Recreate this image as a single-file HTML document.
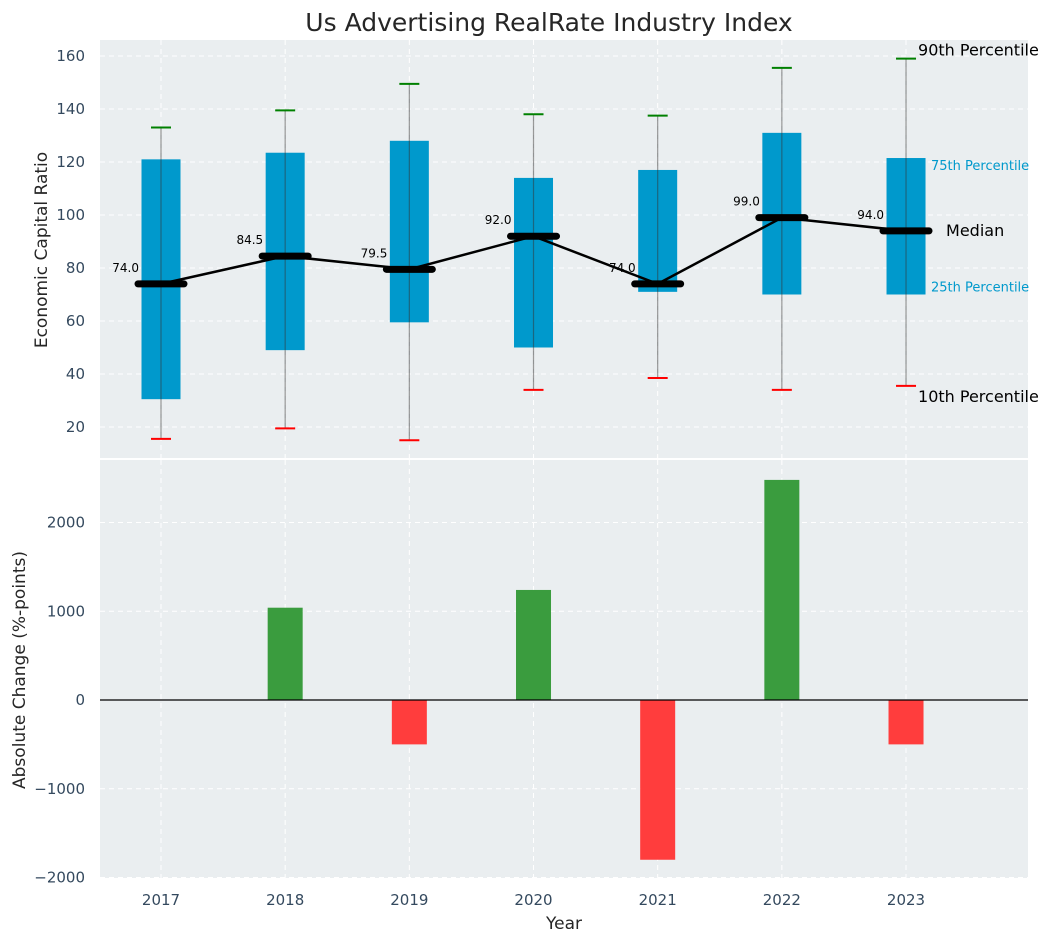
<!DOCTYPE html>
<html><head><meta charset="utf-8">
<style>
html,body{margin:0;padding:0;background:#fff;}
svg{display:block;font-family:"DejaVu Sans","Liberation Sans",sans-serif;}
</style></head>
<body>
<svg id="chart" width="1053" height="942" viewBox="0 0 1053 942" xmlns="http://www.w3.org/2000/svg">
<text x="549" y="31" text-anchor="middle" font-size="25" fill="#262626">Us Advertising RealRate Industry Index</text>
<rect x="100" y="40" width="928" height="418" fill="#eaeef0"/>
<rect x="100" y="460" width="928" height="418" fill="#eaeef0"/>
<g id="topg"></g>
<g id="botg"></g>
<text x="47" y="250" text-anchor="middle" font-size="17" fill="#262626" transform="rotate(-90 47 250)">Economic Capital Ratio</text>
<text x="25" y="670" text-anchor="middle" font-size="17" fill="#262626" transform="rotate(-90 25 670)">Absolute Change (%-points)</text>
<text x="564" y="929" text-anchor="middle" font-size="17" fill="#262626">Year</text>
</svg>
<script>
const years = ['2017','2018','2019','2020','2021','2022','2023'];
const p10 = [15.5, 19.5, 15, 34, 38.5, 34, 35.5];
const p25 = [30.5, 49, 59.5, 50, 71, 70, 70];
const medians = [74.0, 84.5, 79.5, 92.0, 74.0, 99.0, 94.0];
const p75 = [121, 123.5, 128, 114, 117, 131, 121.5];
const p90 = [133, 139.5, 149.5, 138, 137.5, 155.5, 159];
const changes = [0, 1040, -500, 1240, -1800, 2480, -500];
const topTicks = [20, 40, 60, 80, 100, 120, 140, 160];
const bottomTicks = [-2000, -1000, 0, 1000, 2000];

{
const NS = 'http://www.w3.org/2000/svg';
function mk(parent, tag, attrs, text) {
  const e = document.createElementNS(NS, tag);
  for (const k in attrs) e.setAttribute(k, attrs[k]);
  if (text !== undefined) e.textContent = text;
  parent.appendChild(e);
  return e;
}
const xPos = i => 161 + i * 124.17;
const yTop = v => 427 - (v - 20) * 2.65;
const yBot = v => 700 - v * 0.08875;
const topG = document.getElementById('topg');
const botG = document.getElementById('botg');
const tickCol = '#34495e';

topTicks.forEach(t => {
  const y = yTop(t);
  const g = mk(topG, 'line', {x1:100, x2:1028, y1:y, y2:y, stroke:'#fff', 'stroke-dasharray':'5,4', 'stroke-width':1});
  
  
  const l = mk(topG, 'text', {x:85, y:y+5, 'text-anchor':'end', 'font-size':15, fill:tickCol}, t);
  
  
});
bottomTicks.forEach(t => {
  const y = yBot(t);
  const g = mk(botG, 'line', {x1:100, x2:1028, y1:y, y2:y, stroke:'#fff', 'stroke-dasharray':'5,4', 'stroke-width':1});
  
  
  const l = mk(botG, 'text', {x:85, y:y+5, 'text-anchor':'end', 'font-size':15, fill:tickCol}, t < 0 ? '\u2212' + Math.abs(t) : t);
  
  
});
years.forEach((yr, i) => {
  const x = xPos(i);
  [[40,458,topG],[460,878,botG]].forEach(([a,b,p]) => {
    const g = mk(p, 'line', {x1:x, x2:x, y1:a, y2:b, stroke:'#fff', 'stroke-dasharray':'5,4', 'stroke-width':1});
    
    
  });
  const l = mk(botG, 'text', {x:x, y:905, 'text-anchor':'middle', 'font-size':15, fill:tickCol}, yr);
  
  
});

years.forEach((yr, i) => {
  const x = xPos(i);
  const b = mk(topG, 'rect', {x:x-19.5, y:yTop(p75[i]), width:39, height:yTop(p25[i])-yTop(p75[i]), fill:'#0099cc'});
  
  
  const w = mk(topG, 'line', {x1:x, x2:x, y1:yTop(p90[i]), y2:yTop(p10[i]), stroke:'#333', 'stroke-opacity':0.5, 'stroke-width':1.2});
  
  
  const c1 = mk(topG, 'line', {x1:x-10, x2:x+10, y1:yTop(p90[i]), y2:yTop(p90[i]), stroke:'#008000', 'stroke-width':2});
  
  
  const c2 = mk(topG, 'line', {x1:x-10, x2:x+10, y1:yTop(p10[i]), y2:yTop(p10[i]), stroke:'#ff0000', 'stroke-width':2});
  
  
});
const pts = medians.map((m, i) => xPos(i) + ',' + yTop(m)).join(' ');
const ml = mk(topG, 'polyline', {points:pts, fill:'none', stroke:'#000', 'stroke-width':2.5});


years.forEach((yr, i) => {
  const x = xPos(i), y = yTop(medians[i]);
  const m = mk(topG, 'line', {x1:x-23, x2:x+23, y1:y, y2:y, stroke:'#000', 'stroke-width':7, 'stroke-linecap':'round'});
  
  
  const t = mk(topG, 'text', {x:x-22, y:y-12, 'text-anchor':'end', 'font-size':12, fill:'#000'}, medians[i].toFixed(1));
  
  
});
const lx = xPos(6);
const ann = [
  ['90th Percentile', p90[6], 16, '#000', 'p90-annotation', 6],
  ['75th Percentile', p75[6], 13, '#0099cc', 'p75-annotation', 12],
  ['Median', medians[6], 16, '#000', 'median-annotation', 5],
  ['25th Percentile', p25[6], 13, '#0099cc', 'p25-annotation', -3],
  ['10th Percentile', p10[6], 16, '#000', 'p10-annotation', 6]
];
ann.forEach(([txt, v, fs, col, nm, dy]) => {
  let x = lx + 25, y = yTop(v) + dy;
  if (nm === 'median-annotation') x = lx + 40;
  if (nm === 'p90-annotation') { x = lx + 12; y = yTop(v) - 3; }
  if (nm === 'p10-annotation') { x = lx + 12; y = yTop(v) + 16; }
  const t = mk(topG, 'text', {x:x, y:y, 'font-size':fs, fill:col}, txt);
  
  
});
changes.forEach((c, i) => {
  const x = xPos(i);
  const y0 = yBot(0), y1 = yBot(c);
  const r = mk(botG, 'rect', {x:x-17.5, y:Math.min(y0,y1), width:35, height:Math.abs(y1-y0), fill: c >= 0 ? '#3a9c3e' : '#ff3d3d'});
  
  
});
const zl = mk(botG, 'line', {x1:100, x2:1028, y1:yBot(0), y2:yBot(0), stroke:'#000', 'stroke-width':1.2});


}
</script>
</body></html>
